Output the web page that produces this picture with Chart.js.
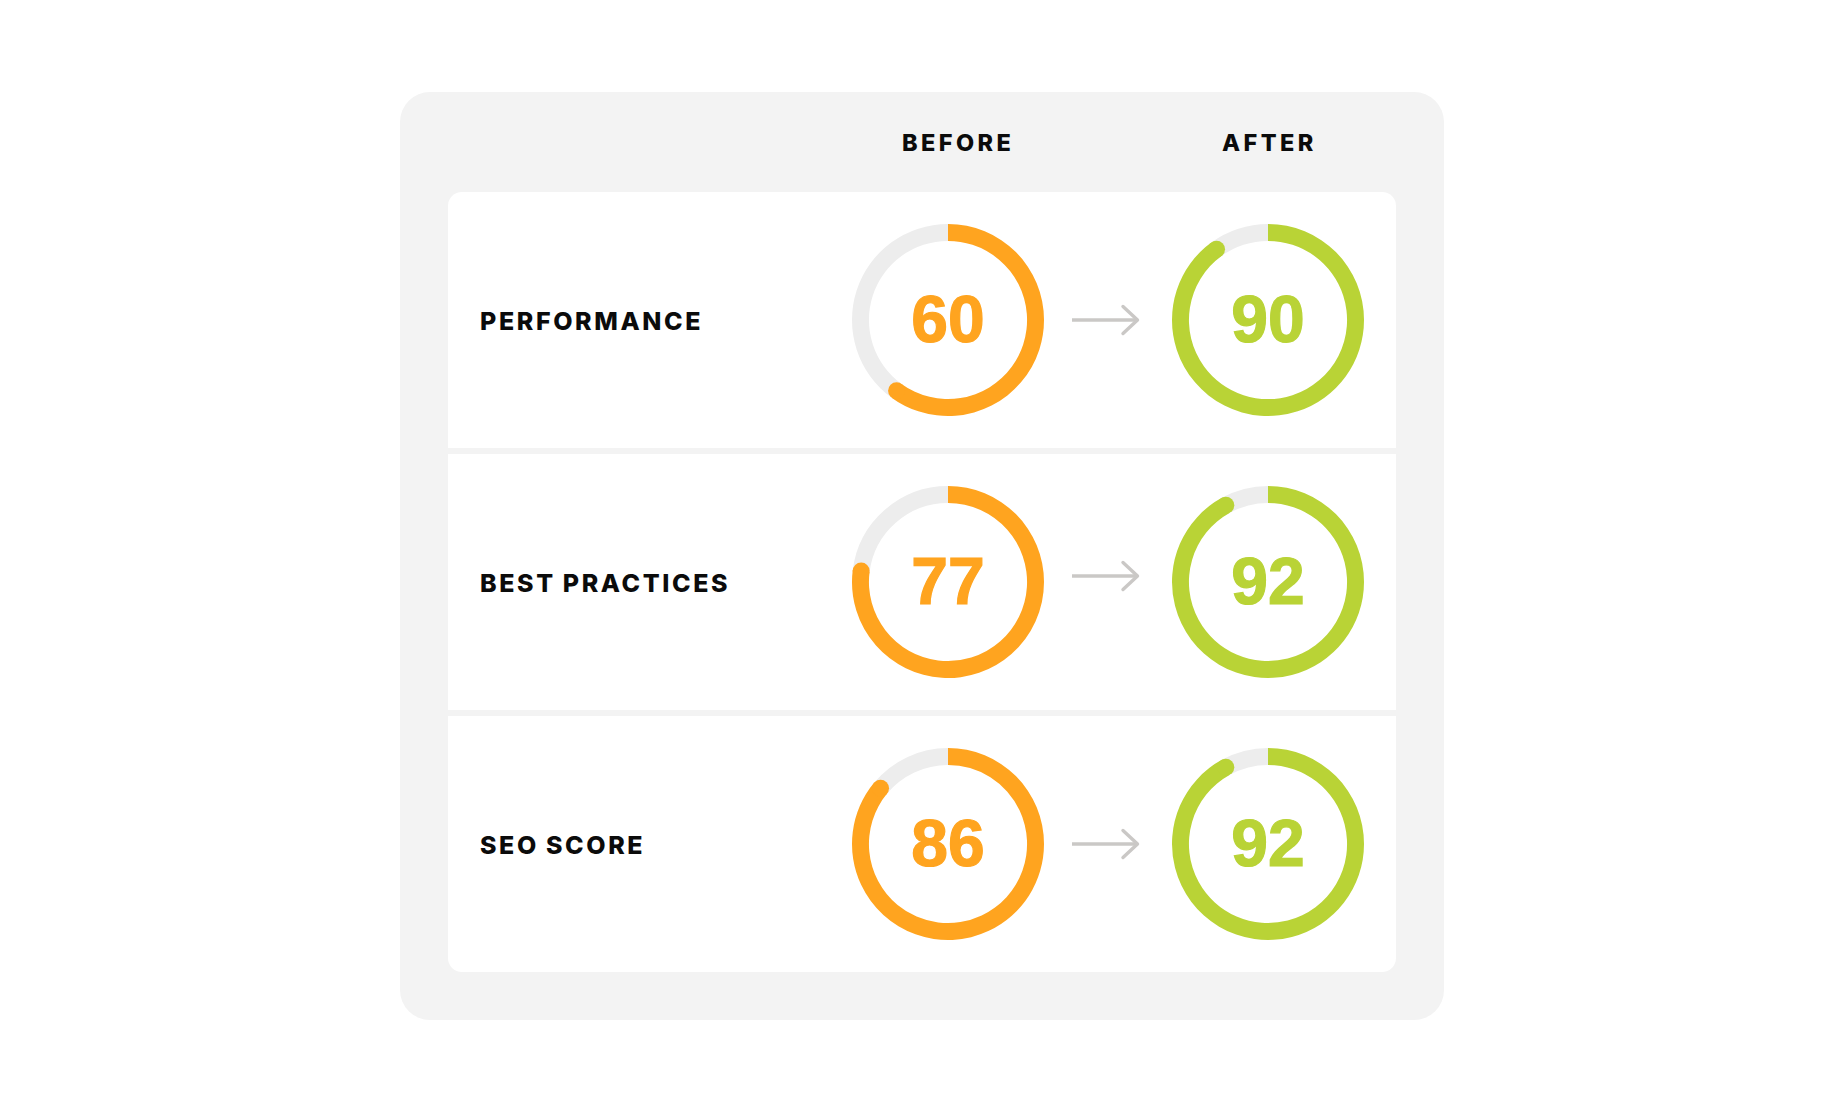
<!DOCTYPE html>
<html>
<head>
<meta charset="utf-8">
<script src="https://cdn.jsdelivr.net/npm/chart.js@4.4.1/dist/chart.umd.min.js"></script>
<style>
  html, body { margin: 0; padding: 0; background: #ffffff; }
  #stage { position: relative; width: 1844px; height: 1112px; overflow: hidden; background: #fff; }
  .panel { position: absolute; left: 400px; top: 92px; width: 1044px; height: 928px; background: #f3f3f3; border-radius: 30px; }
  .card { position: absolute; left: 448px; top: 192px; width: 948px; height: 780px; background: #ffffff; border-radius: 14px; }
  .sep { position: absolute; left: 448px; width: 948px; height: 6px; background: #f3f3f3; }
  .head { position: absolute; font-family: Inter, "Liberation Sans", sans-serif; font-weight: 800; font-size: 23.5px; letter-spacing: 3.4px; color: #0b0b0b; line-height: 24px; white-space: nowrap; }
  .label { position: absolute; left: 480px; font-family: Inter, "Liberation Sans", sans-serif; font-weight: 800; font-size: 25px; letter-spacing: 2.6px; word-spacing: -1px; color: #0b0b0b; line-height: 24px; white-space: nowrap; }
  .gauge { position: absolute; width: 204px; height: 204px; }
  .num { position: absolute; width: 200px; height: 66px; line-height: 66px; text-align: center; font-family: "Liberation Sans", Arial, sans-serif; font-weight: 700; font-size: 66px; -webkit-text-stroke: 1.2px currentColor; }
  .arrow { position: absolute; }
</style>
</head>
<body>
<div id="stage">
  <div class="panel"></div>
  <div class="card"></div>
</div>
<script>
// ---- data ----
const categories = ['PERFORMANCE', 'BEST PRACTICES', 'SEO SCORE'];
const columnLabels = ['BEFORE', 'AFTER'];
const beforeScores = [60, 77, 86];
const afterScores = [90, 92, 92];
const maxScore = 100;

// ---- styles ----
const beforeColor = '#ffa41f';
const afterColor = '#b9d336';
const trackColor = '#ededed';

const stage = document.getElementById('stage');
const rowTop = 192, rowH = 256, sepH = 6;
const gaugeX = [948, 1268];
const headLeft = [902, 1222];
const arrowDy = [0, -6, 0];

// separators
for (let i = 1; i < categories.length; i++) {
  const s = document.createElement('div');
  s.className = 'sep';
  s.style.top = (rowTop + i * (rowH + sepH) - sepH) + 'px';
  stage.appendChild(s);
}

// column headers
columnLabels.forEach((t, j) => {
  const h = document.createElement('div');
  h.className = 'head';
  h.textContent = t;
  h.style.left = headLeft[j] + 'px';
  h.style.top = (143 - 12) + 'px';
  stage.appendChild(h);
});

// cap plugin: rounded end of value arc
const capPlugin = {
  id: 'cap',
  afterDatasetsDraw(chart) {
    const meta = chart.getDatasetMeta(0);
    const arc = meta.data[0];
    if (!arc) return;
    const p = arc.getProps(['x', 'y', 'endAngle', 'innerRadius', 'outerRadius'], true);
    const r = (p.innerRadius + p.outerRadius) / 2;
    const w = (p.outerRadius - p.innerRadius) / 2;
    const ctx = chart.ctx;
    ctx.save();
    ctx.fillStyle = chart.data.datasets[0].backgroundColor[0];
    ctx.beginPath();
    ctx.arc(p.x + r * Math.cos(p.endAngle), p.y + r * Math.sin(p.endAngle), w, 0, Math.PI * 2);
    ctx.fill();
    ctx.restore();
  }
};

function makeGauge(cx, cy, value, color) {
  const c = document.createElement('canvas');
  c.className = 'gauge';
  c.width = 204; c.height = 204;
  c.style.left = (cx - 102) + 'px';
  c.style.top = (cy - 102) + 'px';
  stage.appendChild(c);
  new Chart(c, {
    type: 'doughnut',
    data: {
      labels: ['score', 'rest'],
      datasets: [{
        data: [value, maxScore - value],
        backgroundColor: [color, trackColor],
        borderWidth: 0,
        hoverOffset: 0
      }]
    },
    options: {
      responsive: false,
      animation: false,
      events: [],
      cutout: 84,
      radius: 96,
      layout: { padding: 0 },
      plugins: { legend: { display: false }, tooltip: { enabled: false } }
    },
    plugins: [capPlugin]
  });
  const n = document.createElement('div');
  n.className = 'num';
  n.textContent = String(value);
  n.style.color = color;
  n.style.left = (cx - 100) + 'px';
  n.style.top = (cy - 33 - 1) + 'px';
  stage.appendChild(n);
}

function makeArrow(cy) {
  const ns = 'http://www.w3.org/2000/svg';
  const svg = document.createElementNS(ns, 'svg');
  svg.setAttribute('class', 'arrow');
  svg.setAttribute('width', '80');
  svg.setAttribute('height', '40');
  svg.style.left = '1066px';
  svg.style.top = (cy - 20) + 'px';
  svg.innerHTML =
    '<line x1="6" y1="20" x2="71" y2="20" stroke="#cac8c6" stroke-width="3.6"/>' +
    '<polyline points="57,6.5 71.5,20 57,33.5" fill="none" stroke="#cac8c6" stroke-width="3.4" stroke-linecap="round" stroke-linejoin="round"/>';
  stage.appendChild(svg);
}

categories.forEach((cat, i) => {
  const cy = rowTop + i * (rowH + sepH) + rowH / 2;
  const l = document.createElement('div');
  l.className = 'label';
  l.textContent = cat;
  l.style.top = (cy + 1 - 12) + 'px';
  stage.appendChild(l);
  makeGauge(gaugeX[0], cy, beforeScores[i], beforeColor);
  makeGauge(gaugeX[1], cy, afterScores[i], afterColor);
  makeArrow(cy + arrowDy[i]);
});
</script>
</body>
</html>
